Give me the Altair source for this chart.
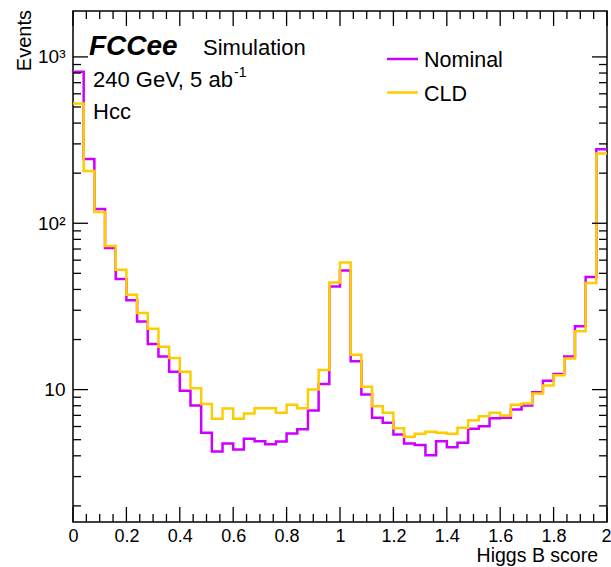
import altair as alt
import pandas as pd

# ---------------- data ----------------
bin_width = 0.04
nominal = [813, 243, 122, 71, 46.2, 34.4, 25.7, 18.8, 15.8, 12.8,
           9.84, 8.03, 5.5, 4.24, 4.75, 4.37, 5.07, 4.9, 4.7, 4.87,
           5.45, 5.77, 7.5, 10.8, 41.7, 52, 14.8, 9.35, 6.78, 6.33,
           5.38, 4.75, 4.64, 4.03, 4.9, 4.5, 4.8, 5.82, 6.03, 6.72,
           6.78, 7.6, 8.03, 9.64, 11.3, 12.4, 15.8, 24, 47.5, 279]
cld = [525, 206, 117, 73, 52.5, 37.2, 28.9, 23.2, 18.1, 15.5,
       12.8, 10.2, 8.2, 6.68, 7.7, 6.68, 7.19, 7.73, 7.73, 7.26,
       8.1, 7.73, 10.0, 13.1, 44.1, 58, 16.2, 10.4, 7.94, 7.26,
       5.85, 5.21, 5.43, 5.58, 5.5, 5.43, 5.9, 6.55, 6.92, 7.26,
       7.0, 8.1, 8.26, 9.48, 10.6, 12.2, 15.4, 22.4, 43.7, 263]
series_names = ["Nominal", "CLD"]
series_colors = ["#cc00ff", "#ffcc00"]

x_labels = [0, 0.2, 0.4, 0.6, 0.8, 1, 1.2, 1.4, 1.6, 1.8, 2]
x_minor = [round(0.05 * i, 2) for i in range(41) if i % 4]
y_labels = [10, 100, 1000]
y_minor = [m * 10 ** e for e in range(0, 4) for m in range(2, 10) if 1.6 <= m * 10 ** e <= 1888]

x_title = "Higgs B score"
y_title = "Events"
exp_name = "FCCee"
exp_status = "Simulation"
energy_text = "240 GeV, 5 ab"
lumi_exp = "-1"
process_text = "Hcc"

# ---------------- layout ----------------
W, H = 534, 511
FONT = "Liberation Sans"
MAJ, MIN = 15, 8

xscale = alt.Scale(domain=[0, 2], nice=False, zero=False)
yscale = alt.Scale(type="log", domain=[1.6, 1888], nice=False)

xaxis = alt.Axis(values=x_labels, labelExpr="'' + datum.value", title=None,
                 ticks=False, domain=False, grid=False, labelFont=FONT,
                 labelFontSize=18, labelPadding=5, labelFlush=False,
                 labelOverlap=False, labelColor="black",
                 labelAlign={"condition": {"test": "datum.value == 2", "value": "right"},
                             "value": "center"},
                 labelOffset={"condition": {"test": "datum.value == 2", "value": 4},
                              "value": 0})
yaxis = alt.Axis(values=y_labels,
                 labelExpr="datum.value >= 1000 ? '10³' : (datum.value >= 100 ? '10²' : '10')",
                 title=None, ticks=False, domain=False, grid=False, labelFont=FONT,
                 labelFontSize=19, labelPadding=8, labelFlush=False,
                 labelOverlap=False, labelColor="black")

XE = lambda f: alt.X(f, type="quantitative", scale=xscale, axis=xaxis)
YE = lambda f: alt.Y(f, type="quantitative", scale=yscale, axis=yaxis)


def step_df(vals):
    xs = [round(i * bin_width, 2) for i in range(len(vals) + 1)]
    ys = list(vals) + [vals[-1]]
    return pd.DataFrame({"x": xs, "y": ys})


layers = []
for vals, col in zip([nominal, cld], series_colors):
    layers.append(
        alt.Chart(step_df(vals)).mark_line(interpolate="step-after", color=col, strokeWidth=2.5)
        .encode(x=XE("x"), y=YE("y"))
    )


def xticks(vals, length):
    df = pd.DataFrame({"v": vals})
    b = alt.Chart(df).mark_rule(color="black", strokeWidth=1.3).encode(
        x=XE("v"), y=alt.value(H), y2=alt.value(H - length))
    t = alt.Chart(df).mark_rule(color="black", strokeWidth=1.3).encode(
        x=XE("v"), y=alt.value(0), y2=alt.value(length))
    return [b, t]


def yticks(vals, length):
    df = pd.DataFrame({"v": vals})
    l = alt.Chart(df).mark_rule(color="black", strokeWidth=1.3).encode(
        y=YE("v"), x=alt.value(0), x2=alt.value(length))
    r = alt.Chart(df).mark_rule(color="black", strokeWidth=1.3).encode(
        y=YE("v"), x=alt.value(W), x2=alt.value(W - length))
    return [l, r]


layers += xticks(x_labels, MAJ) + xticks(x_minor, MIN)
layers += yticks(y_labels, MAJ) + yticks(y_minor, MIN)


def text(t, x, y, size, align="left", style="normal", weight="normal", angle=0):
    return alt.Chart(pd.DataFrame({"t": [t]})).mark_text(
        align=align, baseline="alphabetic", font=FONT, fontSize=size,
        fontStyle=style, fontWeight=weight, angle=angle, color="black"
    ).encode(text="t:N", x=alt.value(x), y=alt.value(y))


layers += [
    text(exp_name, 16, 44, 28, style="italic", weight="bold"),
    text(exp_status, 130, 44, 22),
    text(energy_text, 20, 76, 22),
    text(lumi_exp, 161, 66, 14),
    text(process_text, 20, 108, 22),
    text(x_title, 525, 551, 19.5, align="right"),
    text(y_title, -42.5, -1, 20, align="right", angle=270),
]

# legend
leg_y = [48, 81.5]
for name, col, yy in zip(series_names, series_colors, leg_y):
    layers.append(
        alt.Chart(pd.DataFrame({"t": [name]})).mark_rule(color=col, strokeWidth=2.5)
        .encode(x=alt.value(314), x2=alt.value(345), y=alt.value(yy))
    )
    layers.append(text(name, 351, yy + 8, 21.5))

chart = alt.layer(*layers).properties(
    width=W, height=H,
    autosize=alt.AutoSizeParams(type="none"),
    padding={"left": 73, "top": 11, "right": 4, "bottom": 45},
    background="white",
).configure_view(stroke="black", strokeWidth=1.5)

chart.save("out.html", embed_options={"renderer": "svg", "actions": False})
